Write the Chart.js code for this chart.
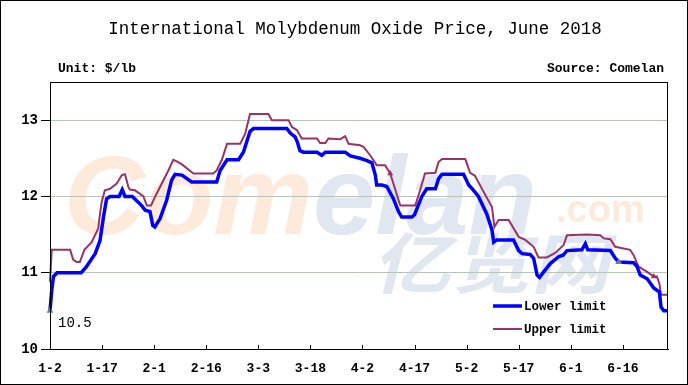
<!DOCTYPE html>
<html>
<head>
<meta charset="utf-8">
<script src="https://cdn.jsdelivr.net/npm/chart.js@4.4.0/dist/chart.umd.min.js"></script>
<style>
html, body { margin: 0; padding: 0; background: #fff; }
canvas { display: block; }
</style>
</head>
<body>
<canvas id="price-chart" width="688" height="385"></canvas>
<script>
// x values are days counted from 1-2 (2018)
var tickLabels = ["1-2", "1-17", "2-1", "2-16", "3-3", "3-18", "4-2", "4-17", "5-2", "5-17", "6-1", "6-16"];
var tickDays = [0, 15, 30, 45, 60, 75, 90, 105, 120, 135, 150, 165];
var yTicks = [10, 11, 12, 13];

var lowerDays = [0, 0.5, 1, 2, 9, 10.5, 13, 14.4, 15.4, 16.3, 17.3, 19.9, 20.8, 21.6, 23.7, 26.4, 27.4, 28.8, 29.6, 30.2,
    31.7, 33.6, 35, 36, 38, 40.8, 48, 49, 51, 54.3, 55.7, 57.6, 58.6, 68.2, 69.2, 70.6, 71.2, 72, 73, 76.9,
    78.3, 79.3, 85, 86.5, 89.3, 91.3, 92.7, 93.7, 94.1, 95.6, 97, 98.9, 100.4, 101.3, 104.2, 105, 107.1, 108.5, 111, 111.9,
    112.9, 119.1, 120.6, 122, 123.4, 125.8, 127.3, 127.8, 128.7, 133.5, 135, 136, 138.3, 139.3, 140.3, 141, 142.2, 144.1, 146.5, 147.8,
    148.9, 153.2, 154.2, 154.9, 161.4, 162.8, 163.8, 168.1, 169.1, 170, 172, 173.9, 174.8, 175.5, 176, 176.8, 178];
var lowerPrice = [10.5, 10.77, 10.95, 11.0, 11.0, 11.08, 11.25, 11.42, 11.73, 11.97, 12.0, 12.0, 12.09, 12.0, 12.0, 11.88, 11.82, 11.8, 11.62, 11.6,
    11.71, 11.95, 12.21, 12.29, 12.28, 12.19, 12.19, 12.34, 12.48, 12.48, 12.58, 12.85, 12.89, 12.89, 12.83, 12.78, 12.72, 12.6, 12.58, 12.58,
    12.54, 12.58, 12.58, 12.53, 12.5, 12.47, 12.44, 12.28, 12.15, 12.15, 12.13, 11.97, 11.8, 11.73, 11.73, 11.76, 12.0, 12.1, 12.1, 12.23,
    12.29, 12.29, 12.15, 12.08, 12.0, 11.77, 11.56, 11.4, 11.43, 11.43, 11.29, 11.25, 11.24, 11.19, 10.97, 10.94, 11.01, 11.12, 11.21, 11.23,
    11.29, 11.3, 11.38, 11.3, 11.29, 11.19, 11.14, 11.13, 11.08, 10.97, 10.92, 10.8, 10.77, 10.75, 10.55, 10.5, 10.5];

var upperDays = [0, 0.5, 5.8, 6.7, 7.7, 8.6, 9.9, 12, 13.9, 14.4, 14.9, 15.8, 17.3, 19.2, 20.7, 21.6, 22.6, 23, 24.5, 26.9,
    27.9, 29.1, 30.3, 32.2, 34.1, 35.5, 36.5, 38, 41.3, 47, 48, 49.5, 51, 54.8, 56.2, 57.6, 62.9, 63.9, 68.7, 69.7,
    71.1, 72.5, 76.9, 77.8, 79.3, 80.2, 83.6, 85, 86, 89.3, 90.3, 92.2, 94.1, 96.5, 98, 98.9, 100.4, 100.9, 105.2, 106.6,
    108, 111, 111.9, 112.9, 119.6, 121, 122.4, 124.9, 127.3, 128, 129.2, 132.1, 135, 136.9, 139.3, 140.7, 143.1, 145.5, 147.9, 148.9,
    154.7, 158.5, 159.5, 161.4, 162.8, 167.1, 168.1, 169.5, 172, 173.9, 174.8, 175.5, 176, 178];
var upperPrice = [10.88, 11.3, 11.3, 11.17, 11.14, 11.14, 11.3, 11.4, 11.58, 11.77, 11.93, 12.08, 12.1, 12.17, 12.28, 12.29, 12.12, 12.09, 12.08, 12.0,
    11.88, 11.88, 12.0, 12.17, 12.34, 12.48, 12.46, 12.42, 12.3, 12.3, 12.34, 12.48, 12.69, 12.69, 12.82, 13.08, 13.08, 13.0, 13.0, 12.91,
    12.87, 12.76, 12.76, 12.7, 12.7, 12.76, 12.75, 12.79, 12.69, 12.67, 12.65, 12.54, 12.41, 12.41, 12.3, 12.17, 11.95, 11.88, 11.88, 12.08,
    12.3, 12.31, 12.45, 12.49, 12.49, 12.31, 12.27, 12.06, 11.86, 11.6, 11.69, 11.69, 11.47, 11.43, 11.34, 11.2, 11.2, 11.26, 11.36, 11.49,
    11.5, 11.49, 11.45, 11.44, 11.34, 11.3, 11.23, 11.08, 11.01, 10.95, 10.95, 10.86, 10.71, 10.71];

var lowerMarks = [0, 163.8];
var upperMarks = [98, 173.9];

function toPoints(days, prices) {
    return days.map(function (d, i) { return { x: d, y: prices[i] }; });
}

var monoFont = '"Liberation Mono", "DejaVu Sans Mono", monospace';

var decorations = {
    id: 'decorations',
    beforeDraw: function (chart) {
        var ctx = chart.ctx;
        ctx.save();
        ctx.fillStyle = '#fff';
        ctx.fillRect(0, 0, chart.width, chart.height);

        // faint site watermark
        ctx.textBaseline = 'alphabetic';
        ctx.textAlign = 'left';
        ctx.font = 'italic bold 112px "Liberation Sans", Arial, sans-serif';
        ctx.fillStyle = '#feeadb';
        ctx.fillText('Com', 64, 234);
        var w = ctx.measureText('Com').width;
        ctx.fillStyle = '#e0e7f1';
        ctx.fillText('elan', 64 + w, 234);
        ctx.font = 'bold 38px "Liberation Sans", Arial, sans-serif';
        ctx.fillStyle = '#feeadb';
        ctx.fillText('.com', 556, 222);
        ctx.translate(372, 288);
        ctx.transform(1.2, 0, -0.25, 1, 0, 0);
        ctx.font = 'bold 66px "Noto Sans CJK SC", sans-serif';
        ctx.fillStyle = '#e0e7f1';
        ctx.fillText('亿览网', 0, 0);
        ctx.restore();
    },
    afterDraw: function (chart) {
        var ctx = chart.ctx;
        var area = chart.chartArea;
        var xs = chart.scales.x;
        var ys = chart.scales.y;
        ctx.save();

        // outer frame and plot frame
        ctx.strokeStyle = '#000';
        ctx.lineWidth = 1;
        ctx.strokeRect(0.5, 0.5, chart.width - 1, chart.height - 1);
        ctx.strokeRect(Math.round(area.left) + 0.5, Math.round(area.top) + 0.5,
            Math.round(area.right - area.left) - 1, Math.round(area.bottom - area.top));

        // small inward ticks on the x axis
        ctx.beginPath();
        tickDays.forEach(function (d) {
            var px = Math.round(xs.getPixelForValue(d)) + 0.5;
            ctx.moveTo(px, area.bottom);
            ctx.lineTo(px, area.bottom - 4);
        });
        ctx.stroke();

        // titles
        ctx.fillStyle = '#000';
        ctx.textBaseline = 'middle';
        ctx.textAlign = 'center';
        ctx.font = '17.5px ' + monoFont;
        ctx.fillText('International Molybdenum Oxide Price, June 2018', 355, 29);
        ctx.font = 'bold 13px ' + monoFont;
        ctx.textAlign = 'left';
        ctx.fillText('Unit: $/lb', 58, 69);
        ctx.textAlign = 'right';
        ctx.fillText('Source: Comelan', 664, 69);

        // first value label
        ctx.textAlign = 'left';
        ctx.font = '14px ' + monoFont;
        ctx.fillText(lowerPrice[0].toFixed(1), xs.getPixelForValue(lowerDays[0]) + 8, ys.getPixelForValue(lowerPrice[0]) + 12);

        // legend inside plot
        var lx = area.right - 175;
        var rows = [area.bottom - 43, area.bottom - 20];
        chart.data.datasets.forEach(function (ds, i) {
            ctx.strokeStyle = ds.borderColor;
            ctx.lineWidth = ds.borderWidth;
            ctx.beginPath();
            ctx.moveTo(lx, rows[i]);
            ctx.lineTo(lx + 29, rows[i]);
            ctx.stroke();
            ctx.fillStyle = '#000';
            ctx.font = 'bold 12.5px ' + monoFont;
            ctx.textAlign = 'left';
            ctx.fillText(ds.label, lx + 31, rows[i] + 1);
        });
        ctx.restore();
    }
};

var priceChart = new Chart(document.getElementById("price-chart"), {
    type: 'line',
    data: {
        datasets: [{
            label: "Lower limit",
            data: toPoints(lowerDays, lowerPrice),
            borderColor: '#0000ff',
            borderWidth: 3.5,
            tension: 0,
            clip: false,
            pointStyle: 'triangle',
            pointRadius: lowerDays.map(function (d) { return lowerMarks.indexOf(d) >= 0 ? 4 : 0; }),
            pointBackgroundColor: '#6e7ca6',
            pointBorderColor: '#6e7ca6',
            pointBorderWidth: 0
        }, {
            label: "Upper limit",
            data: toPoints(upperDays, upperPrice),
            borderColor: '#993366',
            borderWidth: 2,
            tension: 0,
            clip: false,
            pointStyle: 'triangle',
            pointRadius: upperDays.map(function (d) { return upperMarks.indexOf(d) >= 0 ? 3.5 : 0; }),
            pointBackgroundColor: '#993366',
            pointBorderColor: '#993366',
            pointBorderWidth: 0
        }]
    },
    options: {
        responsive: false,
        animation: false,
        devicePixelRatio: 1,
        layout: { padding: { top: 82, right: 20, bottom: 0, left: 0 } },
        plugins: {
            legend: { display: false },
            tooltip: { enabled: false }
        },
        scales: {
            x: {
                type: 'linear',
                min: 0,
                max: 178,
                afterBuildTicks: function (s) { s.ticks = tickDays.map(function (v) { return { value: v }; }); },
                afterFit: function (s) { s.height = 36; },
                grid: { display: true, drawOnChartArea: false, drawTicks: false },
                border: { display: true, color: '#000' },
                ticks: {
                    autoSkip: false,
                    maxRotation: 0,
                    padding: 12,
                    color: '#000',
                    font: { family: monoFont, size: 13, weight: 'bold' },
                    callback: function (v, i) { return tickLabels[i]; }
                }
            },
            y: {
                min: 10,
                max: 13.5,
                afterBuildTicks: function (s) { s.ticks = yTicks.map(function (v) { return { value: v }; }); },
                afterFit: function (s) { s.width = 50; },
                grid: {
                    color: function (c) { return c.tick && c.tick.value === 10 ? 'rgba(0,0,0,0)' : '#b9c4b9'; },
                    tickColor: '#000',
                    tickLength: 9
                },
                border: { display: true, color: '#000' },
                ticks: {
                    padding: 3,
                    color: '#000',
                    font: { family: monoFont, size: 14, weight: 'bold' }
                }
            }
        }
    },
    plugins: [decorations]
});
</script>
</body>
</html>
